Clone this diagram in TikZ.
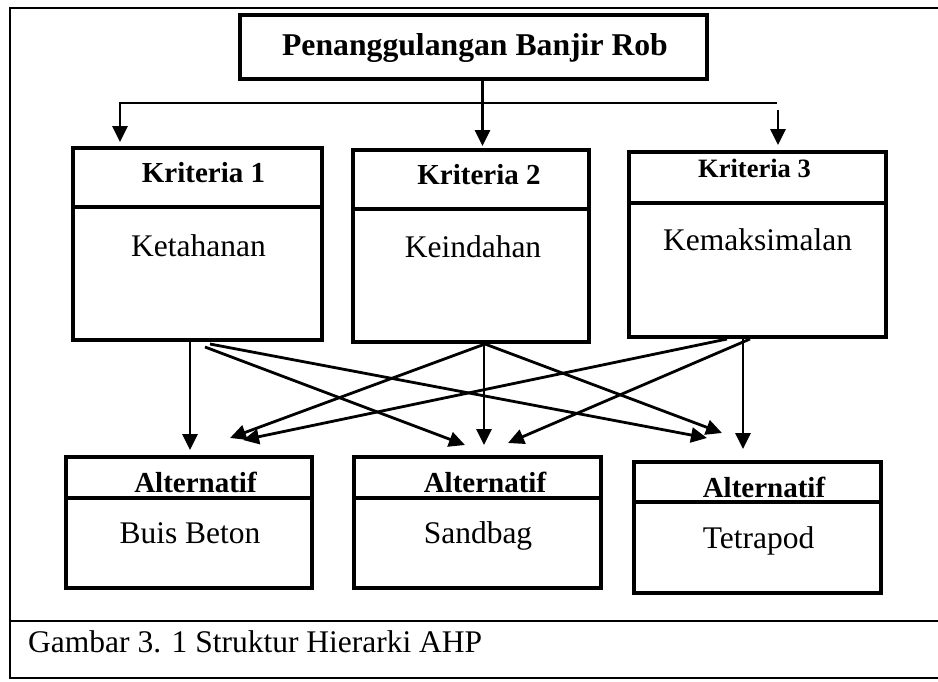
\documentclass[tikz,border=0pt]{standalone}
\usepackage{fontspec}
\setmainfont{Liberation Serif}
\usetikzlibrary{arrows.meta,calc}
\begin{document}
\begin{tikzpicture}[x=1pt,y=-1pt,
  box/.style={draw, line width=4pt, inner sep=0pt},
  divider/.style={line width=4pt},
  frame/.style={line width=2.4pt},
  rule/.style={line width=2pt},
  conn/.style={line width=2.8pt},
  arr/.style={conn, -{Triangle[width=15pt,length=16pt]}},
  reg/.style={font=\fontsize{31.5}{38}\selectfont, inner sep=0pt, anchor=base},
  bld/.style={font=\fontsize{29}{35}\selectfont\bfseries, inner sep=0pt, anchor=base}]
\useasboundingbox (0,0) rectangle (938,681);

% outer frame and caption rule
\draw[frame] (938,8) -- (10,8) -- (10,678) -- (938,678);
\draw[rule] (10,621) -- (938,621);
\node[reg, anchor=base west] (caption) at (28,652) {Gambar 3. 1 Struktur Hierarki AHP};

% goal
\node[box, minimum width=467pt, minimum height=64pt] (goal) at (473.5,47) {};
\node[bld, font=\fontsize{31.7}{38}\selectfont\bfseries] (goaltxt) at (475,55) {Penanggulangan Banjir Rob};

% criteria
\node[box, minimum width=249pt, minimum height=192pt] (K1) at (197.5,244) {};
\node[box, minimum width=236pt, minimum height=192pt] (K2) at (471,246) {};
\node[box, minimum width=257pt, minimum height=185pt] (K3) at (757.5,244.5) {};
\draw[divider] (K1.west |- 0,207) -- (K1.east |- 0,207);
\draw[divider] (K2.west |- 0,209) -- (K2.east |- 0,209);
\draw[divider] (K3.west |- 0,203) -- (K3.east |- 0,203);
\node[bld] (K1h) at (203.5,182) {Kriteria 1};
\node[reg] (K1b) at (198.5,256) {Ketahanan};
\node[bld] (K2h) at (479,184) {Kriteria 2};
\node[reg] (K2b) at (473,257) {Keindahan};
\node[bld, font=\fontsize{26.5}{32}\selectfont\bfseries] (K3h) at (754.5,177) {Kriteria 3};
\node[reg] (K3b) at (757.5,250) {Kemaksimalan};

% alternatives
\node[box, minimum width=246pt, minimum height=131pt] (A1) at (189,522.5) {};
\node[box, minimum width=247pt, minimum height=131pt] (A2) at (477.5,522.5) {};
\node[box, minimum width=247pt, minimum height=131pt] (A3) at (757.5,527.5) {};
\draw[divider] (A1.west |- 0,498) -- (A1.east |- 0,498);
\draw[divider] (A2.west |- 0,498) -- (A2.east |- 0,498);
\draw[divider] (A3.west |- 0,502) -- (A3.east |- 0,502);
\node[bld] (A1h) at (195.5,492) {Alternatif};
\node[reg] (A1b) at (190,543) {Buis Beton};
\node[bld] (A2h) at (485,492) {Alternatif};
\node[reg] (A2b) at (478,543) {Sandbag};
\node[bld] (A3h) at (764,497) {Alternatif};
\node[reg] (A3b) at (758.5,548) {Tetrapod};

% free ends of the connectors
\coordinate (split) at (482.5,103);
\coordinate (splitL) at (120,103);
\coordinate (splitR) at (777,103);
\coordinate (tipK1) at (120,142);
\coordinate (tipK2) at (482.5,146);
\coordinate (tailK3) at (778,110);
\coordinate (tipK3) at (778,145);

\coordinate (K1toA1) at (190,450);
\coordinate (K1toA2) at (465,445);
\coordinate (K1toA3) at (707,438);
\coordinate (K2toA1) at (230,438);
\coordinate (K2toA2) at (484,445);
\coordinate (K2toA3) at (722,433);
\coordinate (K3toA1) at (243,440);
\coordinate (K3toA2) at (508,443);
\coordinate (K3toA3) at (743,449);

% goal to criteria
\draw[arr] ([xshift=9pt]goal.south) -- (tipK2);
\draw[arr] (split) -- (splitL) -- (tipK1);
\draw[conn] (split) -- (splitR);
\draw[arr] (tailK3) -- (tipK3);

% criteria to alternatives
\draw[arr] ([xshift=-7.5pt]K1.south) -- (K1toA1);
\draw[arr] ([xshift=7.5pt,yshift=-5pt]K1.south) -- (K1toA2);
\draw[arr] ([xshift=12.5pt,yshift=-2pt]K1.south) -- (K1toA3);
\draw[arr] ([xshift=13pt]K2.south) -- (K2toA2);
\draw[arr] ([xshift=14pt]K2.south) -- (K2toA1);
\draw[arr] ([xshift=14pt]K2.south) -- (K2toA3);
\draw[arr] ([xshift=-14.5pt]K3.south) -- (K3toA3);
\draw[arr] ([xshift=-30.5pt]K3.south) -- (K3toA1);
\draw[arr] ([xshift=-7.5pt]K3.south) -- (K3toA2);
\end{tikzpicture}
\end{document}
